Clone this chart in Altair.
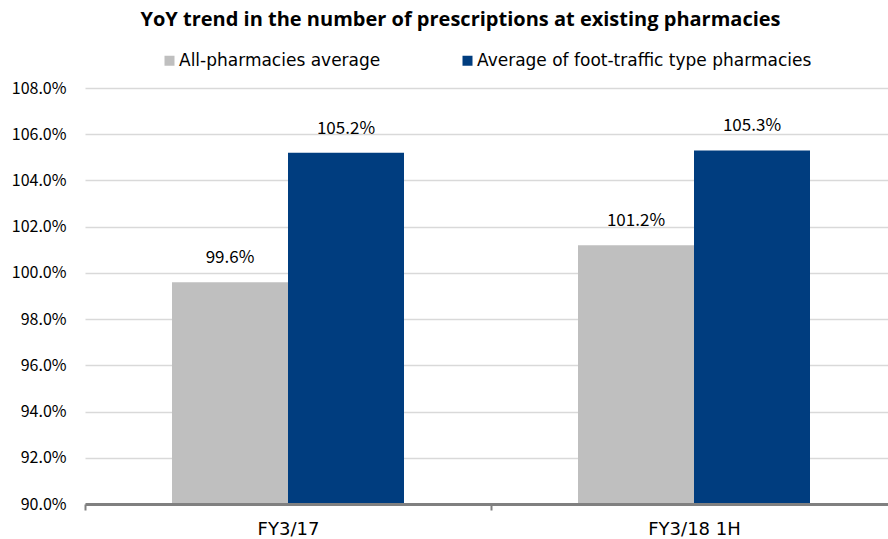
import altair as alt
import pandas as pd

categories = ["FY3/17", "FY3/18 1H"]
series = ["All-pharmacies average", "Average of foot-traffic type pharmacies"]
all_avg = [99.6, 101.2]
foot_avg = [105.2, 105.3]
colors = ["#BFBFBF", "#003D7F"]
y_ticks = [90, 92, 94, 96, 98, 100, 102, 104, 106, 108]
y_min, y_max = 90, 108

rows = []
for i, c in enumerate(categories):
    rows.append({"cat": c, "series": series[0], "value": all_avg[i]})
    rows.append({"cat": c, "series": series[1], "value": foot_avg[i]})
df = pd.DataFrame(rows)
df["label"] = df["value"].map(lambda v: f"{v:.1f}%")

NUMFONT = "Noto Sans CJK JP"
TXTFONT = "DejaVu Sans"
TITLEFONT = "Open Sans"

x = alt.X("cat:N", sort=categories,
          scale=alt.Scale(paddingInner=0, paddingOuter=0, range=[0, 812]),
          axis=alt.Axis(title=None, labelAngle=0, tickBand="extent", domainColor="#808080",
                        domainWidth=3, tickColor="#808080", tickWidth=2, tickSize=6,
                        labelFontSize=18, labelColor="#000000", labelFont=TXTFONT,
                        labelPadding=10, grid=False, zindex=1))
xo = alt.XOffset("series:N", sort=series,
                 scale=alt.Scale(paddingOuter=0.75, paddingInner=0))
y = alt.Y("value:Q", scale=alt.Scale(domain=[y_min, y_max], nice=False, zero=False),
          axis=alt.Axis(title=None, values=y_ticks, labelExpr="format(datum.value, '.1f') + '%'",
                        domain=False, ticks=False, gridColor="#D9D9D9", gridWidth=1.5,
                        labelFontSize=16, labelColor="#000000", labelFont=NUMFONT,
                        labelPadding=19))

bars = alt.Chart(df).mark_bar().encode(
    x=x, xOffset=xo, y=y, y2=alt.datum(y_min),
    color=alt.Color("series:N", sort=series,
                    scale=alt.Scale(domain=series, range=colors),
                    legend=alt.Legend(title=None, orient="none", direction="horizontal",
                                      legendX=76, legendY=-36, symbolType="square",
                                      symbolSize=100, symbolStrokeWidth=0,
                                      labelFontSize=17, labelFont=TXTFONT, labelColor="#000000",
                                      labelLimit=600, columnPadding=78, labelOffset=1,
                                      padding=0))
)
labels = alt.Chart(df).mark_text(dy=-19, baseline="alphabetic", fontSize=17, font=NUMFONT,
                                 color="#000000").encode(
    x=x, xOffset=xo, y=y, text="label:N"
)

chart = alt.layer(bars, labels).properties(
    width=803, height=416,
    title=alt.Title("YoY trend in the number of prescriptions at existing pharmacies",
                    fontSize=20, fontWeight="bold", font=TITLEFONT, color="#000000",
                    anchor="middle", frame="group", dx=-26, offset=22),
    autosize=alt.AutoSizeParams(type="none"),
    padding={"left": 85, "top": 88, "right": 0, "bottom": 35},
).configure_view(stroke=None)

chart.save("out.html", embed_options={"renderer": "svg", "actions": False})
